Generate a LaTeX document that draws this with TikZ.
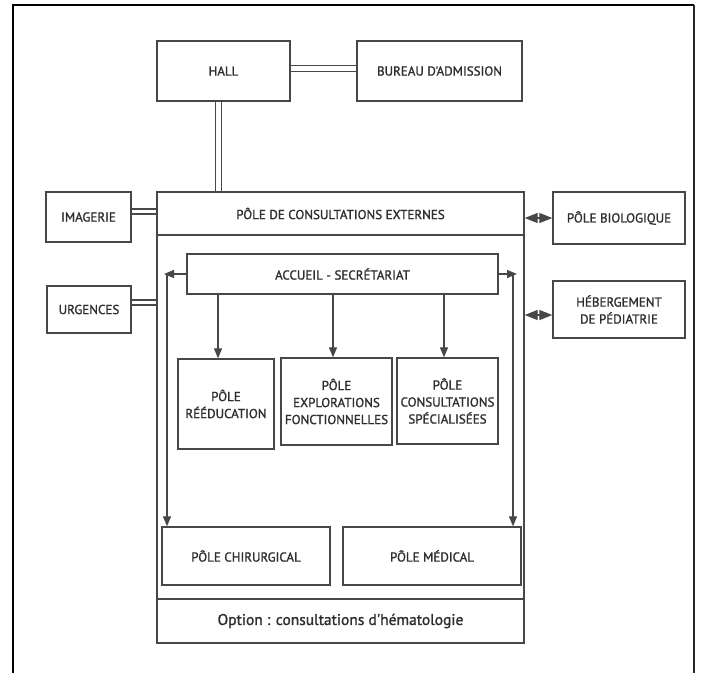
\documentclass[tikz,border=0pt]{standalone}
\usepackage{fontspec}
\setmainfont{PT Sans}
\newfontfamily\lbl{PT Sans}[FakeBold=1.3]
\usetikzlibrary{arrows.meta,calc}
\pgfdeclarelayer{bg}
\pgfsetlayers{bg,main}
\definecolor{ink}{HTML}{474747}
\definecolor{txt}{HTML}{2E2E2E}
\begin{document}
\begin{tikzpicture}[x=1pt,y=-1pt,
  box/.style={draw=ink, line width=1.4pt, inner sep=1pt, align=center,
    text=txt, font=\lbl\fontsize{13}{17}\selectfont},
  link/.style={draw=ink, double=white, line width=1.3pt},
  arr/.style={draw=ink, line width=1.3pt, -{Triangle[length=10pt,width=8pt]}},
  biarr/.style={draw=ink, line width=1.3pt,
    {Triangle[length=13pt,width=10pt]}-{Triangle[length=13pt,width=10pt]}},
]
\useasboundingbox (0,0) rectangle (701,673);

% page frame, open at the bottom
\draw[line width=2.2pt, black] (13,673) -- (13,5) -- (694,5);
\draw[line width=2.8pt, black!85] (694,5) -- (694,673);

% top row
\node[box, minimum width=133, minimum height=60] (hall) at (223.5,71) {HALL};
\node[box, minimum width=165, minimum height=60] (bureau) at (439.5,71) {BUREAU D'ADMISSION};

% main block
\node[draw=ink, line width=1.4pt, minimum width=367, minimum height=451] (outer) at (340.5,417.5) {};
\node[box, minimum width=367, minimum height=43] (pce) at (340.5,213.5) {PÔLE DE CONSULTATIONS EXTERNES};
\node[box, minimum width=367, minimum height=44, font=\lbl\fontsize{15.5}{18}\selectfont] (option) at (340.5,621) {Option : consultations d'hématologie};

% side boxes
\node[box, minimum width=85, minimum height=50] (imagerie) at (88.5,217) {IMAGERIE};
\node[box, minimum width=84, minimum height=47] (urgences) at (89,309.5) {URGENCES};
\node[box, minimum width=132, minimum height=52] (pbio) at (619,218) {PÔLE BIOLOGIQUE};
\node[box, minimum width=132, minimum height=57] (heberg) at (619,309.5) {HÉBERGEMENT\\DE PÉDIATRIE};

% inner boxes
\node[box, minimum width=311, minimum height=40] (accueil) at (342.5,274) {ACCUEIL - SECRÉTARIAT};
\node[box, minimum width=96, minimum height=90] (reed) at (226,404) {PÔLE\\RÉÉDUCATION};
\node[box, minimum width=111, minimum height=87] (explo) at (336.5,401.5) {PÔLE\\EXPLORATIONS\\FONCTIONNELLES};
\node[box, minimum width=101, minimum height=86] (consult) at (447.5,401) {PÔLE\\CONSULTATIONS\\SPÉCIALISÉES};
\node[box, minimum width=168, minimum height=58] (chir) at (246,556) {PÔLE CHIRURGICAL};
\node[box, minimum width=178, minimum height=58] (medical) at (432,556) {PÔLE MÉDICAL};

% helper coordinates
\coordinate (hb) at ([yshift=2.5pt]hall.east);
\coordinate (hp) at ([xshift=-5pt]hall.south);
\coordinate (ip) at ([yshift=5.5pt]imagerie.east);
\coordinate (up) at ([yshift=7pt]urgences.east);
\coordinate (hg) at ([yshift=-5.5pt]heberg.west);
\coordinate (d1) at (218,0);
\coordinate (d2) at (333,0);
\coordinate (d3) at (444,0);
\coordinate (lx) at (167,0);
\coordinate (ltip) at (164,0);
\coordinate (rx) at (513,0);
\coordinate (rtip) at (517,0);

\begin{pgfonlayer}{bg}
  \fill[white] (0,0) rectangle (701,673);
  % corridors
  \draw[link, double distance=5pt] (hb) -- (hb -| bureau.west);
  \draw[link, double distance=5pt] (hp) -- (hp |- pce.north);
  \draw[link, double distance=3.8pt] (ip) -- (ip -| pce.west);
  \draw[link, double distance=3.8pt] (up) -- (up -| outer.west);
\end{pgfonlayer}

% two-way links
\draw[biarr] (pbio.west -| pce.east) -- (pbio.west);
\draw[biarr] (hg -| outer.east) -- (hg);

% flows from the reception desk
\draw[arr] (accueil.south -| d1) -- (reed.north -| d1);
\draw[arr] (accueil.south -| d2) -- (explo.north -| d2);
\draw[arr] (accueil.south -| d3) -- (consult.north -| d3);
\draw[arr] (accueil.west) -- (accueil.west -| ltip);
\draw[arr] (accueil.west -| lx) -- (chir.north -| lx);
\draw[arr] (accueil.east) -- (accueil.east -| rtip);
\draw[arr] (accueil.east -| rx) -- (medical.north -| rx);
\end{tikzpicture}
\end{document}
